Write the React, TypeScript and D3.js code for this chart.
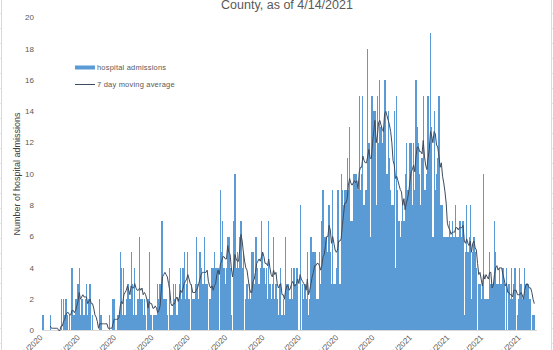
import React, { useMemo } from 'react';
import { scaleLinear, scaleTime, line, timeDay, timeParse } from 'd3';

const chartTitle = 'County, as of 4/14/2021';
const yAxisTitle = 'Number of hospital admissions';
const barLegend = 'hospital admissions';
const lineLegend = '7 day moving average';
const firstDay = '3/3/2020';

// daily hospital admissions, one array per month
const mar2020 = [1, 0, 0, 0, 0, 0, 1, 0, 0, 0, 0, 0, 0, 0, 0, 2, 0, 2, 1, 2, 1, 0, 1, 0, 4, 1, 1, 2, 2];
const apr2020 = [3, 4, 1, 2, 2, 1, 2, 3, 1, 2, 3, 0, 1, 0, 0, 0, 0, 0, 2, 1, 0, 0, 0, 0, 0, 0, 1, 0, 0, 2];
const may2020 = [2, 0, 0, 1, 1, 5, 4, 1, 4, 1, 2, 3, 3, 2, 5, 3, 1, 4, 1, 2, 2, 6, 2, 2, 1, 2, 1, 0, 2, 5, 1];
const jun2020 = [1, 0, 1, 1, 1, 3, 2, 3, 7, 7, 2, 2, 2, 1, 0, 4, 1, 1, 3, 2, 3, 1, 2, 3, 4, 2, 4, 5, 2, 3];
const jul2020 = [5, 2, 0, 3, 2, 2, 3, 6, 3, 2, 5, 4, 3, 3, 6, 3, 3, 0, 2, 2, 4, 4, 5, 4, 4, 4, 0, 9, 5, 7, 4];
const aug2020 = [3, 4, 6, 6, 4, 1, 0, 7, 10, 4, 5, 4, 6, 7, 4, 5, 0, 2, 3, 2, 3, 2, 5, 5, 3, 6, 6, 4, 3, 4, 7];
const sep2020 = [5, 4, 3, 4, 2, 7, 3, 2, 3, 6, 2, 3, 2, 1, 3, 4, 1, 2, 1, 6, 3, 3, 2, 2, 4, 2, 4, 3, 4, 4];
const oct2020 = [0, 8, 0, 3, 2, 3, 2, 5, 1, 2, 6, 5, 5, 5, 5, 2, 2, 5, 3, 7, 9, 6, 6, 6, 5, 8, 5, 3, 9, 3, 3];
const nov2020 = [4, 9, 9, 3, 10, 9, 8, 9, 9, 11, 9, 13, 7, 7, 10, 10, 10, 10, 9, 15, 9, 10, 15, 8, 9, 9, 18, 12, 6, 15];
const dec2020 = [15, 14, 14, 8, 15, 12, 16, 13, 12, 13, 16, 16, 10, 14, 11, 9, 8, 8, 14, 4, 15, 9, 7, 6, 7, 8, 7, 10, 12, 9, 9];
const jan2021 = [12, 12, 8, 12, 9, 16, 13, 12, 10, 8, 11, 15, 9, 9, 10, 15, 12, 19, 13, 6, 14, 9, 10, 11, 15, 8, 8, 8, 6, 6, 6];
const feb2021 = [6, 6, 7, 6, 7, 6, 6, 8, 6, 6, 7, 7, 6, 7, 1, 5, 8, 5, 6, 8, 2, 5, 6, 5, 4, 0, 3, 3];
const mar2021 = [2, 3, 10, 2, 2, 2, 2, 5, 3, 3, 3, 7, 5, 3, 3, 4, 3, 3, 4, 3, 0, 4, 0, 3, 2, 4, 2, 3, 4, 0, 1];
const apr2021 = [2, 4, 3, 2, 2, 4, 3, 3, 3, 2, 2, 0, 1, 1];

const yTicks = [0, 2, 4, 6, 8, 10, 12, 14, 16, 18, 20];
const xTickLabels = [
    '3/1/2020', '4/1/2020', '5/1/2020', '6/1/2020', '7/1/2020', '8/1/2020', '9/1/2020',
    '10/1/2020', '11/1/2020', '12/1/2020', '1/1/2021', '2/1/2021', '3/1/2021', '4/1/2021',
];

const font = '"Liberation Sans", Arial, sans-serif';
const grey = '#595959';
const barColor = '#5B9BD5';
const lineColor = '#3D4B5E';

export default function App() {
    const parse = timeParse('%m/%d/%Y');
    const admissions = [
        ...mar2020, ...apr2020, ...may2020, ...jun2020, ...jul2020, ...aug2020, ...sep2020,
        ...oct2020, ...nov2020, ...dec2020, ...jan2021, ...feb2021, ...mar2021, ...apr2021,
    ];
    const start: any = parse(firstDay);
    const rows = admissions.map((v, i) => ({ date: timeDay.offset(start, i), v }));

    const tickDates: any[] = xTickLabels.map((t) => parse(t));
    const x: any = scaleTime()
        .domain([tickDates[0], tickDates[tickDates.length - 1]])
        .range([40.6, 518.6]);
    const y: any = scaleLinear().domain([0, 20]).range([330.5, 17.5]);
    const step = x(rows[1].date) - x(rows[0].date);

    // trailing 7 day average, starting on the 7th day
    const avg = useMemo(() => {
        const out: { date: Date; v: number }[] = [];
        for (let i = 6; i < rows.length; i++) {
            let s = 0;
            for (let k = i - 6; k <= i; k++) s += rows[k].v;
            out.push({ date: rows[i].date, v: s / 7 });
        }
        return out;
    }, [admissions.length]);

    const avgPath: any = line<any>()
        .x((d) => x(d.date))
        .y((d) => y(d.v))(avg);

    const rowLines: number[] = [];
    for (let yy = 13.5; yy < 350; yy += 15) rowLines.push(yy);

    return (
        <svg width={553} height={350} style={{ position: 'absolute', left: 0, top: 0, background: '#fff' }}>
            {/* sheet gridlines peeking at the edges */}
            <line x1={1.5} x2={1.5} y1={0} y2={350} stroke="#d9d9d9" />
            <line x1={551.5} x2={551.5} y1={0} y2={350} stroke="#d9d9d9" />
            {rowLines.map((yy) => (
                <g key={yy}>
                    <line x1={0} x2={1.5} y1={yy} y2={yy} stroke="#e3e3e3" />
                    <line x1={551.5} x2={553} y1={yy} y2={yy} stroke="#e3e3e3" />
                </g>
            ))}

            <text x={287} y={8.5} textAnchor="middle" fontFamily={font} fontSize={12.5} fill={grey}>
                {chartTitle}
            </text>

            {yTicks.map((t) => (
                <text key={t} x={34} y={y(t)} dy="0.34em" textAnchor="end" fontFamily={font} fontSize={8} fill={grey}>
                    {t}
                </text>
            ))}
            <text
                transform={`translate(19.5,${(y(0) + y(20)) / 2}) rotate(-90)`}
                textAnchor="middle"
                fontFamily={font}
                fontSize={9}
                fill="#404040"
            >
                {yAxisTitle}
            </text>

            <g shapeRendering="crispEdges">
                {rows
                    .filter((d) => d.v > 0)
                    .map((d, i) => (
                        <rect
                            key={i}
                            x={x(d.date) - step / 2}
                            width={step}
                            y={y(d.v)}
                            height={y(0) - y(d.v)}
                            fill={barColor}
                        />
                    ))}
            </g>
            <line x1={42} x2={537} y1={330.5} y2={330.5} stroke="#d9d9d9" />

            <path d={avgPath} fill="none" stroke={lineColor} strokeWidth={1} />

            {tickDates.map((d, i) => (
                <text
                    key={i}
                    transform={`translate(${x(d) + 2.5},338) rotate(-45)`}
                    textAnchor="end"
                    fontFamily={font}
                    fontSize={8}
                    fill={grey}
                >
                    {xTickLabels[i]}
                </text>
            ))}

            <rect x={75} y={65.5} width={20} height={4} fill={barColor} />
            <text x={97} y={70} fontFamily={font} fontSize={7.5} letterSpacing={0.2} fill={grey}>
                {barLegend}
            </text>
            <line x1={75} x2={95} y1={84.5} y2={84.5} stroke={lineColor} strokeWidth={1} />
            <text x={97} y={87} fontFamily={font} fontSize={7.5} letterSpacing={0.2} fill={grey}>
                {lineLegend}
            </text>
        </svg>
    );
}
